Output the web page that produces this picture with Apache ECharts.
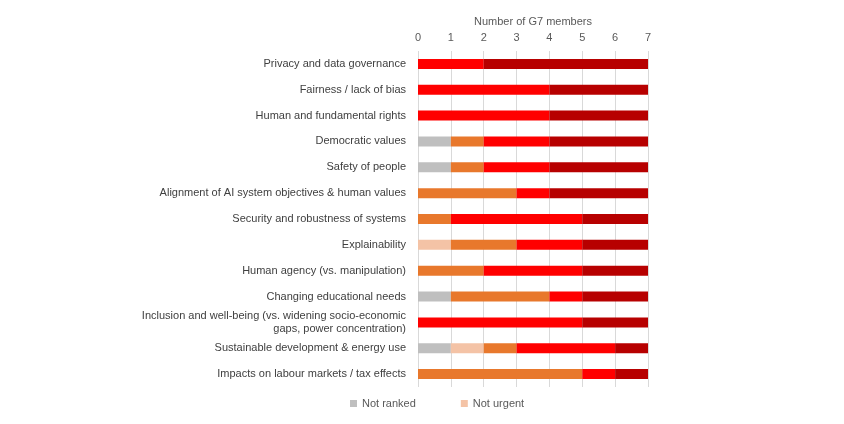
<!DOCTYPE html>
<html><head><meta charset="utf-8">
<script src="https://cdn.jsdelivr.net/npm/echarts@6/dist/echarts.min.js"></script>
<style>html,body{margin:0;background:#fff}#c{width:844px;height:424px}</style>
</head><body><div id="c"></div>
<script>
const categories = ['Privacy and data governance','Fairness / lack of bias','Human and fundamental rights','Democratic values','Safety of people','Alignment of AI system objectives & human values','Security and robustness of systems','Explainability','Human agency (vs. manipulation)','Changing educational needs','Inclusion and well-being (vs. widening socio-economic\ngaps, power concentration)','Sustainable development & energy use','Impacts on labour markets / tax effects'];
const notRanked = [0,0,0,1,1,0,0,0,0,1,0,1,0];
const notUrgent = [0,0,0,0,0,0,0,1,0,0,0,1,0];
const somewhat = [0,0,0,1,1,3,1,2,2,3,0,1,5];
const urgent = [2,4,4,2,2,1,4,2,3,1,5,3,1];
const veryUrgent = [5,3,3,3,3,3,2,2,2,2,2,1,1];
const xTicks = [0,1,2,3,4,5,6,7];

const chart = echarts.init(document.getElementById('c'));
const mk = (name, data, color) => ({name, type:'bar', stack:'a', data, barWidth:10, itemStyle:{color}, emphasis:{disabled:true}});
chart.setOption({
  animation:false,
  textStyle:{fontFamily:'Liberation Sans, Arial, sans-serif'},
  grid:{left:418, right:196, top:51, bottom:37},
  legend:{data:['Not ranked','Not urgent'], bottom:10, left:345, itemGap:45, itemWidth:7, itemHeight:7,
    icon:'rect', textStyle:{fontSize:11, color:'#595959'}},
  xAxis:{type:'value', position:'top', min:0, max:7, interval:1,
    name:'Number of G7 members', nameLocation:'middle', nameGap:22,
    nameTextStyle:{fontSize:11, color:'#595959'},
    axisLabel:{fontSize:11, color:'#595959', formatter:v=>xTicks.includes(v)?v:''},
    axisLine:{show:false}, axisTick:{show:false},
    splitLine:{lineStyle:{color:'#d9d9d9'}}},
  yAxis:{type:'category', inverse:true, data:categories,
    axisLabel:{fontSize:11, color:'#404040', margin:12, lineHeight:13},
    axisLine:{show:false}, axisTick:{show:false}},
  series:[
    mk('Not ranked', notRanked, '#bfbfbf'),
    mk('Not urgent', notUrgent, '#f4c3a6'),
    mk('Somewhat urgent', somewhat, '#e8782c'),
    mk('Urgent', urgent, '#ff0000'),
    mk('Very urgent', veryUrgent, '#b70000')
  ]
});
</script></body></html>
